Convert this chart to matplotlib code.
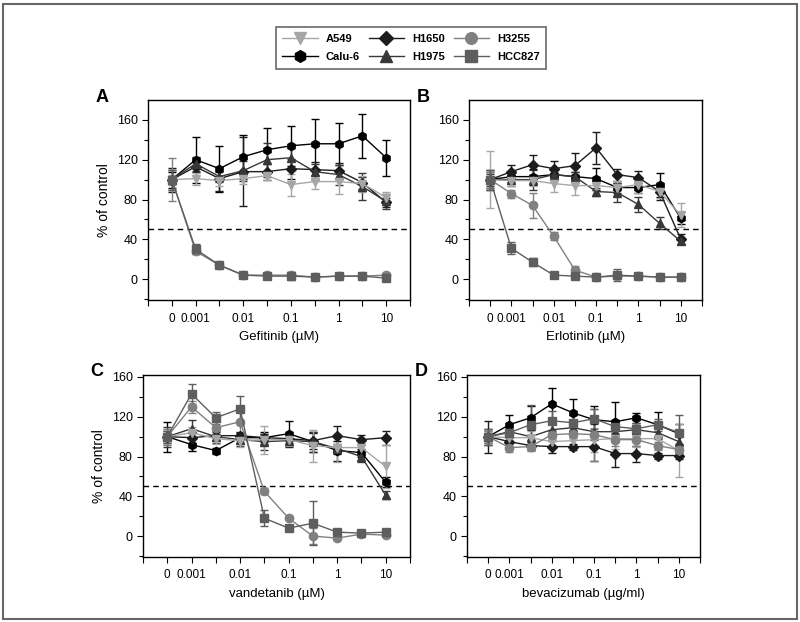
import numpy as np
import matplotlib
matplotlib.use("Agg")
import matplotlib.pyplot as plt
from matplotlib.patches import Rectangle

plt.rcParams["font.family"] = ["Liberation Sans", "DejaVu Sans"]

# ---- data ---------------------------------------------------------------
DOSE_LABELS = ["0", "0.001", "", "0.01", "", "0.1", "", "1", "", "10"]
CELL_LINES = ["A549", "Calu-6", "H1650", "H1975", "H3255", "HCC827"]

GEFITINIB_MEAN = {
    "A549":   [100, 101, 99, 101, 104, 95, 98, 98, 96, 82],
    "Calu-6": [100, 120, 111, 123, 130, 134, 136, 136, 144, 122],
    "H1650":  [100, 113, 101, 108, 108, 111, 110, 109, 97, 77],
    "H1975":  [100, 116, 103, 109, 120, 122, 108, 105, 93, 78],
    "H3255":  [100, 28, 14, 4, 4, 4, 2, 3, 3, 4],
    "HCC827": [100, 30, 14, 4, 3, 3, 2, 3, 3, 1],
}
GEFITINIB_SD = {
    "A549":   [5, 6, 5, 5, 4, 11, 7, 12, 8, 6],
    "Calu-6": [8, 23, 23, 22, 22, 20, 25, 21, 22, 18],
    "H1650":  [12, 5, 12, 35, 8, 10, 8, 8, 6, 5],
    "H1975":  [10, 7, 5, 10, 17, 12, 8, 10, 14, 8],
    "H3255":  [22, 3, 2, 2, 2, 3, 2, 2, 2, 2],
    "HCC827": [10, 5, 2, 2, 2, 4, 2, 2, 2, 2],
}

ERLOTINIB_MEAN = {
    "A549":   [100, 99, 99, 96, 94, 94, 92, 95, 88, 64],
    "Calu-6": [100, 103, 103, 105, 103, 101, 92, 92, 95, 61],
    "H1650":  [100, 108, 115, 111, 114, 132, 105, 102, 88, 40],
    "H1975":  [100, 100, 100, 105, 103, 88, 87, 75, 56, 38],
    "H3255":  [100, 86, 74, 43, 9, 2, 3, 3, 2, 2],
    "HCC827": [100, 31, 17, 4, 3, 2, 4, 3, 2, 2],
}
ERLOTINIB_SD = {
    "A549":   [29, 5, 5, 8, 9, 5, 7, 8, 6, 12],
    "Calu-6": [10, 5, 8, 5, 5, 11, 5, 5, 12, 6],
    "H1650":  [8, 7, 10, 8, 13, 16, 6, 7, 8, 5],
    "H1975":  [6, 6, 10, 5, 5, 4, 10, 8, 6, 3],
    "H3255":  [8, 4, 13, 4, 4, 2, 2, 2, 2, 2],
    "HCC827": [10, 6, 4, 2, 2, 2, 6, 2, 2, 2],
}

VANDETANIB_MEAN = {
    "A549":   [100, 104, 98, 96, 97, 97, 91, 89, 89, 70],
    "Calu-6": [100, 92, 86, 99, 99, 103, 95, 86, 84, 54],
    "H1650":  [100, 99, 101, 101, 99, 98, 96, 101, 97, 99],
    "H1975":  [100, 108, 100, 97, 95, 96, 95, 88, 80, 41],
    "H3255":  [100, 130, 109, 115, 45, 18, 0, -2, 2, 1],
    "HCC827": [100, 143, 119, 128, 18, 8, 13, 4, 3, 4],
}
VANDETANIB_SD = {
    "A549":   [8, 6, 5, 6, 14, 6, 16, 14, 5, 22],
    "Calu-6": [15, 6, 3, 5, 6, 13, 10, 10, 4, 5],
    "H1650":  [6, 5, 4, 4, 4, 4, 8, 10, 5, 7],
    "H1975":  [10, 9, 6, 6, 8, 5, 10, 5, 5, 4],
    "H3255":  [8, 6, 6, 13, 3, 2, 8, 2, 2, 2],
    "HCC827": [6, 10, 6, 13, 8, 2, 22, 2, 2, 2],
}

BEVACIZUMAB_MEAN = {
    "A549":   [100, 99, 99, 95, 96, 97, 98, 98, 98, 86],
    "Calu-6": [100, 112, 119, 133, 124, 117, 115, 119, 112, 103],
    "H1650":  [100, 95, 91, 90, 90, 90, 83, 83, 81, 81],
    "H1975":  [100, 105, 100, 107, 109, 105, 105, 107, 104, 95],
    "H3255":  [100, 89, 90, 102, 103, 102, 97, 97, 91, 87],
    "HCC827": [100, 104, 112, 116, 114, 118, 110, 108, 112, 104],
}
BEVACIZUMAB_SD = {
    "A549":   [6, 5, 7, 6, 6, 12, 10, 8, 10, 27],
    "Calu-6": [8, 10, 12, 16, 14, 14, 20, 5, 13, 10],
    "H1650":  [16, 5, 4, 6, 3, 14, 14, 8, 3, 3],
    "H1975":  [6, 5, 8, 8, 8, 8, 6, 5, 6, 8],
    "H3255":  [6, 4, 4, 5, 4, 26, 6, 6, 4, 6],
    "HCC827": [8, 5, 20, 10, 8, 10, 6, 6, 6, 18],
}

# ---- styles ---------------------------------------------------------------
STYLE = {
    "A549":   dict(color="#a6a6a6", marker="v"),
    "Calu-6": dict(color="#000000", marker="h"),
    "H1650":  dict(color="#1c1c1c", marker="D"),
    "H1975":  dict(color="#383838", marker="^"),
    "H3255":  dict(color="#808080", marker="o"),
    "HCC827": dict(color="#5e5e5e", marker="s"),
}
DRAW_ORDER = ["Calu-6", "H1650", "H1975", "A549", "H3255", "HCC827"]

fig = plt.figure(figsize=(8.0, 6.22), dpi=100)

# panel geometry in pixels: (left, right, top, bottom)
PANELS = [
    ("A", (148, 410, 100, 300), GEFITINIB_MEAN, GEFITINIB_SD,
     "Gefitinib (\u00b5M)", True, 180),
    ("B", (469, 702, 100, 300), ERLOTINIB_MEAN, ERLOTINIB_SD,
     "Erlotinib (\u00b5M)", False, 180),
    ("C", (143, 410, 375, 557), VANDETANIB_MEAN, VANDETANIB_SD,
     "vandetanib (\u00b5M)", True, 162),
    ("D", (467, 700, 375, 557), BEVACIZUMAB_MEAN, BEVACIZUMAB_SD,
     "bevacizumab (\u00b5g/ml)", False, 162),
]
W, H = 800, 622
x = np.arange(len(DOSE_LABELS))

handles = {}
for letter, (l, r, t, b), means, sds, xlabel, ylab, ytop in PANELS:
    ax = fig.add_axes([l / W, (H - b) / H, (r - l) / W, (b - t) / H])
    for name in DRAW_ORDER:
        st = STYLE[name]
        eb = ax.errorbar(x, means[name], yerr=sds[name], color=st["color"],
                         marker=st["marker"], ms=6 if st["marker"] != "D" else 5,
                         mec=st["color"], lw=1.0, elinewidth=1.0, capsize=3,
                         capthick=1.0)
        handles[name] = eb[0]
    ax.axhline(50, color="black", lw=1.0, ls=(0, (4, 3)))
    ax.set_xlim(-1, 10)
    ax.set_ylim(-21, ytop)
    ax.set_xticks(np.arange(-1, 11))
    ax.set_xticklabels([""] + DOSE_LABELS + [""], fontsize=8.5)
    ax.set_yticks([0, 40, 80, 120, 160])
    ax.set_yticks(np.arange(-20, ytop, 20), minor=True)
    ax.tick_params(axis="y", labelsize=9, length=4, width=0.8)
    ax.tick_params(axis="y", which="minor", length=3, width=0.8)
    ax.tick_params(axis="x", length=4, width=0.8, pad=5)
    ax.set_xlabel(xlabel, fontsize=9.5, labelpad=5)
    if ylab:
        ax.set_ylabel("% of control", fontsize=10, labelpad=4)
    for sp in ax.spines.values():
        sp.set_linewidth(1.0)
    fig.text((l - 46) / W, (H - t + 3) / H, letter, fontsize=13,
             fontweight="bold", ha="center", va="center")

leg = fig.legend([handles[n] for n in CELL_LINES], CELL_LINES, ncol=3,
                 loc="center", bbox_to_anchor=(411 / W, (H - 48) / H),
                 frameon=True, fancybox=False, handlelength=3.2,
                 columnspacing=0.8, handletextpad=0.7, labelspacing=0.75,
                 borderpad=0.6, markerscale=1.4,
                 prop={"weight": "bold", "size": 8})
leg.get_frame().set_edgecolor("#444444")
leg.get_frame().set_linewidth(1.2)

fig.patches.append(Rectangle((3 / W, 3 / H), 794 / W, 615 / H,
                             transform=fig.transFigure, fill=False,
                             edgecolor="#666666", lw=1.5))

fig.savefig("out.png", dpi=100)
